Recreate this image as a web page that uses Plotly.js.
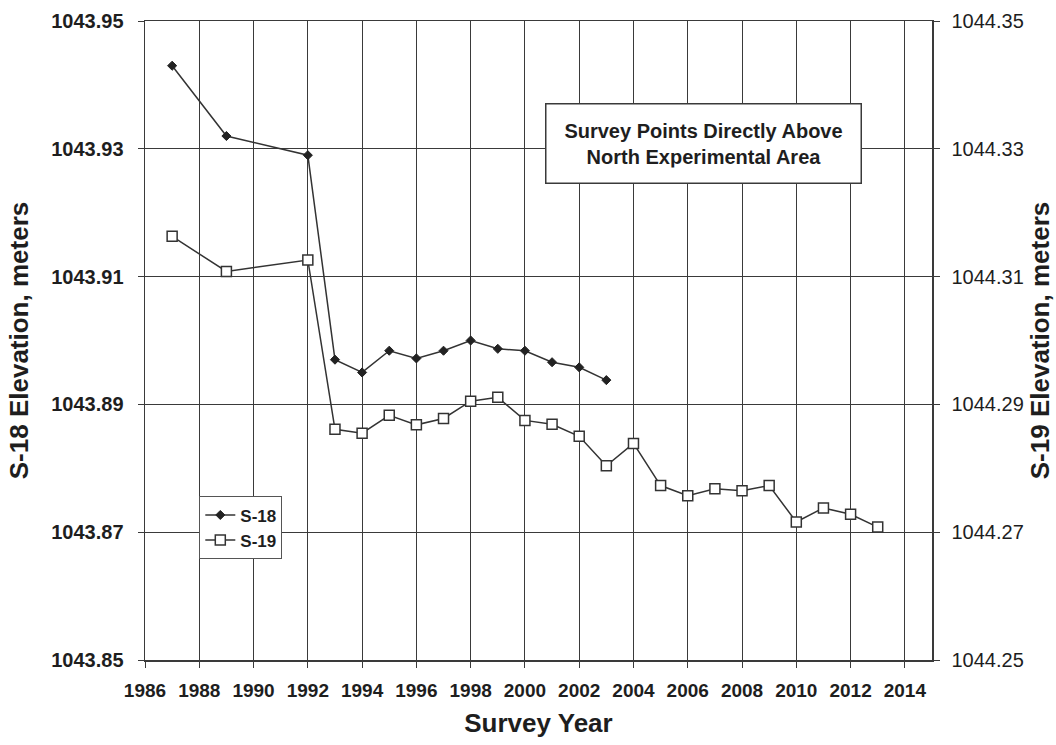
<!DOCTYPE html>
<html>
<head>
<meta charset="utf-8">
<script src="https://cdn.plot.ly/plotly-3.0.1.min.js"></script>
<style>html,body{margin:0;padding:0;background:#fff;}#chart{width:1056px;height:745px;}</style>
</head>
<body>
<div id="chart"></div>
<script>
const s18Years = [1987, 1989, 1992, 1993, 1994, 1995, 1996, 1997, 1998, 1999, 2000, 2001, 2002, 2003];
const s18Values = [1043.943, 1043.932, 1043.929, 1043.897, 1043.895, 1043.8984, 1043.8972, 1043.8984, 1043.900, 1043.8987, 1043.8984, 1043.8966, 1043.8958, 1043.8938];
const s19Years = [1987, 1989, 1992, 1993, 1994, 1995, 1996, 1997, 1998, 1999, 2000, 2001, 2002, 2003, 2004, 2005, 2006, 2007, 2008, 2009, 2010, 2011, 2012, 2013];
const s19Values = [1044.3163, 1044.3108, 1044.3126, 1044.2861, 1044.2855, 1044.2883, 1044.2868, 1044.2878, 1044.2905, 1044.2911, 1044.2875, 1044.2869, 1044.2850, 1044.2804, 1044.2839, 1044.2773, 1044.2757, 1044.2768, 1044.2765, 1044.2773, 1044.2716, 1044.2738, 1044.2728, 1044.2708];
const xTicks = [1986, 1988, 1990, 1992, 1994, 1996, 1998, 2000, 2002, 2004, 2006, 2008, 2010, 2012, 2014];
const leftTicks = [1043.85, 1043.87, 1043.89, 1043.91, 1043.93, 1043.95];
const rightTicks = [1044.25, 1044.27, 1044.29, 1044.31, 1044.33, 1044.35];

const font = '"Liberation Sans", Arial, sans-serif';
const ink = '#1e1e1e';
const axisCol = '#3a3a3a';

const traces = [
  {x: s18Years, y: s18Values, name: 'S-18', type: 'scatter', mode: 'lines+markers', yaxis: 'y',
   line: {color: '#333', width: 1.5},
   marker: {symbol: 'diamond', size: 7, color: '#222', line: {color: '#222', width: 1}}},
  {x: s19Years, y: s19Values, name: 'S-19', type: 'scatter', mode: 'lines+markers', yaxis: 'y2',
   line: {color: '#333', width: 1.5},
   marker: {symbol: 'square', size: 10, color: '#fff', line: {color: '#333', width: 1.5}}}
];

const layout = {
  width: 1056, height: 745,
  margin: {l: 145, r: 124, t: 21, b: 85},
  paper_bgcolor: '#fff', plot_bgcolor: '#fff',
  showlegend: true,
  legend: {x: 0.069, y: 0.256, xanchor: 'left', yanchor: 'top', bgcolor: '#fff',
           bordercolor: '#555', borderwidth: 1,
           font: {family: font, size: 17, color: ink, weight: 'bold'},
           itemwidth: 30, tracegroupgap: 4},
  xaxis: {range: [1986, 2015], tickvals: xTicks, ticktext: xTicks.map(String),
          showgrid: true, gridcolor: axisCol, gridwidth: 1,
          showline: true, linecolor: axisCol, linewidth: 1.5, mirror: true,
          ticks: 'outside', ticklen: 6, tickcolor: axisCol, ticklabelstandoff: 7,
          zeroline: false,
          tickfont: {family: font, size: 19, color: ink, weight: 'bold'},
          title: {text: 'Survey Year', font: {family: font, size: 26, color: ink, weight: 'bold'}, standoff: 13}},
  yaxis: {range: [1043.85, 1043.95], tickvals: leftTicks, ticktext: leftTicks.map(v => v.toFixed(2)),
          showgrid: true, gridcolor: axisCol, gridwidth: 1,
          showline: true, linecolor: axisCol, linewidth: 1.5,
          ticks: 'outside', ticklen: 6, tickcolor: axisCol, ticklabelstandoff: 10, zeroline: false,
          tickfont: {family: font, size: 20, color: ink, weight: 'bold'},
          title: {text: 'S-18 Elevation, meters', font: {family: font, size: 26, color: ink, weight: 'bold'}, standoff: 15}},
  yaxis2: {range: [1044.25, 1044.35], overlaying: 'y', side: 'right',
           tickvals: rightTicks, ticktext: rightTicks.map(v => v.toFixed(2)),
           showgrid: false, showline: true, linecolor: axisCol, linewidth: 1.5,
           ticks: 'outside', ticklen: 6, tickcolor: axisCol, ticklabelstandoff: 8, zeroline: false,
           tickfont: {family: font, size: 20, color: ink},
           title: {text: 'S-19 Elevation, meters', font: {family: font, size: 26, color: ink, weight: 'bold'}, standoff: 8}},
  annotations: [{
    xref: 'paper', yref: 'paper', x: 0.710, y: 0.809, xanchor: 'center', yanchor: 'middle',
    text: 'Survey Points Directly Above<br>North Experimental Area',
    showarrow: false, align: 'center',
    font: {family: font, size: 20, color: ink, weight: 'bold'},
    bgcolor: '#fff', bordercolor: axisCol, borderwidth: 1.5, borderpad: 15,
    width: 284
  }]
};

Plotly.newPlot('chart', traces, layout, {displayModeBar: false, staticPlot: true});
</script>
</body>
</html>
